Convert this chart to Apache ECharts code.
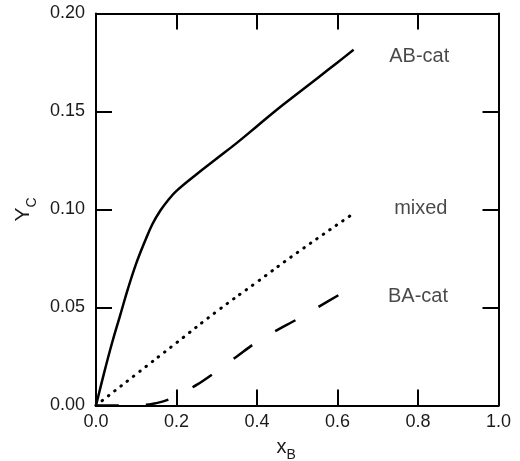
<!DOCTYPE html>
<html>
<head>
<meta charset="utf-8">
<script src="https://cdn.jsdelivr.net/npm/echarts@6/dist/echarts.min.js"></script>
<style>html,body{margin:0;padding:0;background:#fff}#c{width:520px;height:461px}</style>
</head>
<body>
<div id="c"></div>
<script>
// Data
const abX = [0, 0.02, 0.04, 0.06, 0.08, 0.10, 0.12, 0.14, 0.16, 0.18, 0.20, 0.25, 0.30, 0.35, 0.40, 0.45, 0.50, 0.55, 0.60, 0.64];
const abY = [0, 0.0165, 0.032, 0.046, 0.060, 0.0725, 0.083, 0.0925, 0.0995, 0.105, 0.1095, 0.118, 0.126, 0.134, 0.1425, 0.151, 0.159, 0.167, 0.175, 0.1815];
const mixX = [0, 0.1, 0.2, 0.3, 0.4, 0.5, 0.64];
const mixY = [0, 0.016, 0.032, 0.048, 0.063, 0.078, 0.098];
const baX = [0, 0.05, 0.10, 0.12, 0.15, 0.18, 0.20, 0.25, 0.30, 0.35, 0.40, 0.45, 0.50, 0.55, 0.60, 0.64];
const baY = [0, 0, 0, 0.0003, 0.0012, 0.003, 0.005, 0.0105, 0.0175, 0.025, 0.0325, 0.0385, 0.044, 0.050, 0.056, 0.0607];
const labelNames = ['AB-cat', 'mixed', 'BA-cat'];
const labelX = [0.803, 0.807, 0.80];
const labelY = [0.178, 0.1003, 0.0554];

const pairs = (xs, ys) => xs.map((x, i) => [x, ys[i]]);
const FONT = 'Liberation Sans, Arial, sans-serif';
const TXT = '#1a1a1a';
const chart = echarts.init(document.getElementById('c'));
const axisLineStyle = { color: '#000', width: 2 };
const baseAxis = {
  type: 'value',
  axisLine: { show: true, onZero: false, lineStyle: axisLineStyle },
  axisTick: { show: true, inside: true, length: 16, lineStyle: { color: '#000', width: 2 } },
  splitLine: { show: false }
};
chart.setOption({
  animation: false,
  backgroundColor: '#fff',
  grid: { left: 96, right: 21.5, top: 13.5, bottom: 55.5, outerBoundsMode: 'none', containLabel: false },
  xAxis: [
    Object.assign({}, baseAxis, {
      min: 0, max: 1, interval: 0.2, position: 'bottom',
      axisLabel: { color: TXT, fontSize: 18, fontFamily: FONT, margin: 8,
        formatter: v => v.toFixed(1) },
      name: '{m|x}{s|B}', nameLocation: 'middle', nameGap: 30,
      nameTextStyle: { padding: [0, 22, 0, 0],
        rich: { m: { fontSize: 20, fontFamily: FONT, color: TXT, verticalAlign: 'bottom', lineHeight: 22 },
                s: { fontSize: 14, fontFamily: FONT, color: TXT, verticalAlign: 'bottom', lineHeight: 12, padding: [0, 0, -5, 0] } } }
    }),
    Object.assign({}, baseAxis, { min: 0, max: 1, interval: 0.2, position: 'top', axisLabel: { show: false } })
  ],
  yAxis: [
    Object.assign({}, baseAxis, {
      min: 0, max: 0.2, interval: 0.05, position: 'left',
      axisLabel: { color: TXT, fontSize: 18, fontFamily: FONT, margin: 11,
        formatter: v => v.toFixed(2) },
      name: '{m|Y}{s|C}', nameLocation: 'middle', nameGap: 49,
      nameTextStyle: {
        rich: { m: { fontSize: 21, fontFamily: FONT, color: TXT, verticalAlign: 'bottom', lineHeight: 22 },
                s: { fontSize: 14, fontFamily: FONT, color: TXT, verticalAlign: 'bottom', lineHeight: 12, padding: [0, 0, -5, 0] } } }
    }),
    Object.assign({}, baseAxis, { min: 0, max: 0.2, interval: 0.05, position: 'right', axisLabel: { show: false } })
  ],
  series: [
    { type: 'line', name: 'AB-cat', data: pairs(abX, abY), smooth: 0.4, showSymbol: false,
      lineStyle: { color: '#000', width: 2.5 } },
    { type: 'line', name: 'mixed', data: pairs(mixX, mixY), smooth: true, showSymbol: false,
      lineStyle: { color: '#000', width: 3, type: [0.5, 7.4], cap: 'round' } },
    { type: 'line', name: 'BA-cat', data: pairs(baX, baY), smooth: 0.3, showSymbol: false,
      lineStyle: { color: '#000', width: 2.5, type: [23, 27] } },
    { type: 'scatter', data: labelNames.map((n, i) => [labelX[i], labelY[i], n]), symbolSize: 0,
      label: { show: true, position: 'inside', formatter: p => p.data[2], color: TXT, fontSize: 20, fontFamily: FONT } }
  ]
});
</script>
</body>
</html>
